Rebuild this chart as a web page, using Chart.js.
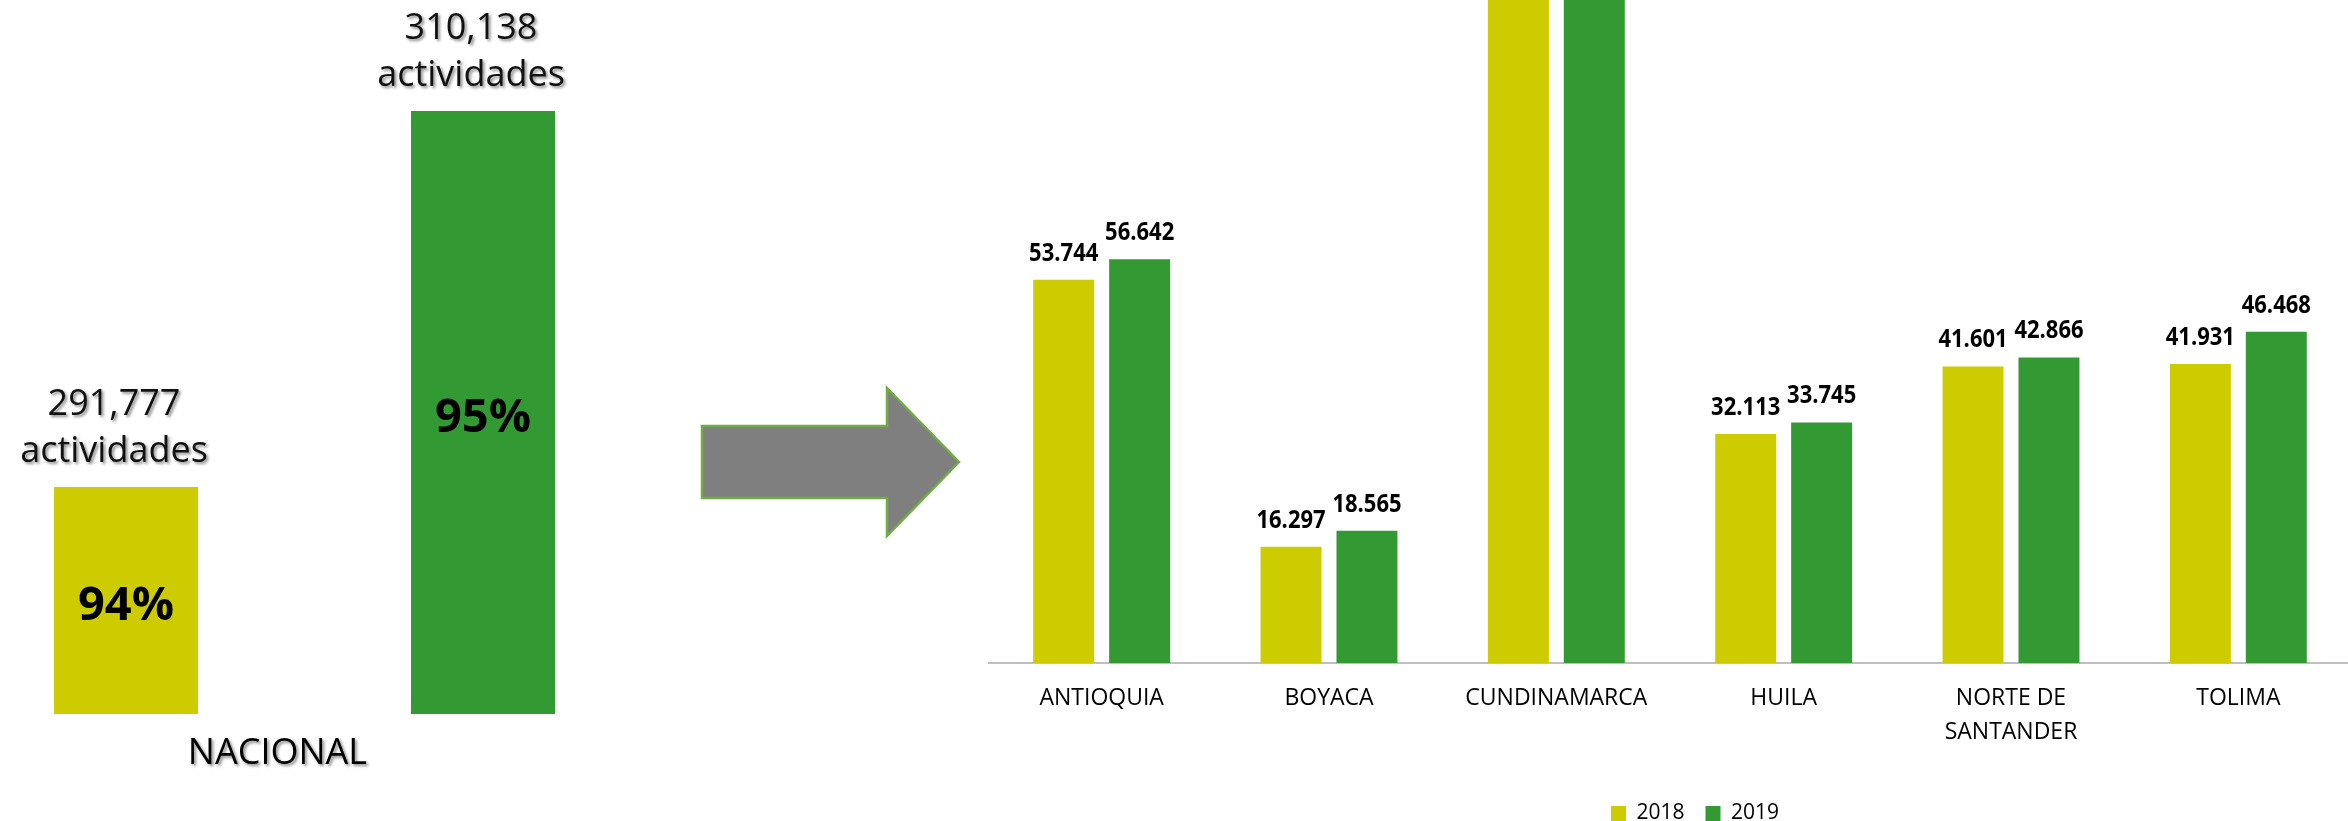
<!DOCTYPE html>
<html>
<head>
<meta charset="utf-8">
<script src="https://cdn.jsdelivr.net/npm/chart.js@4.4.1/dist/chart.umd.min.js"></script>
<style>
  body { margin: 0; width: 2348px; height: 821px; overflow: hidden; background: #fff; position: relative; }
  .box { position: absolute; }
</style>
</head>
<body>
<div class="box" style="left:0;top:0;width:609px;height:821px;"><canvas id="nacional"></canvas></div>
<svg class="box" style="left:0;top:0;" width="1000" height="821">
  <polygon points="702,426 887,426 887,388 959,462 887,536 887,498 702,498"
           fill="#7f7f7f" stroke="#70ad47" stroke-width="2.5" />
</svg>
<div class="box" style="left:988px;top:0;width:1364px;height:832px;"><canvas id="deptos"></canvas></div>

<script>
// national totals
const years = ['2018', '2019'];
const nacActividades = [291777, 310138];
const nacPct = [94, 95];
// the national panel uses a cut axis (hidden)
const nacAxisMin = 280692;
const nacAxisMax = 315559;

// departments
const depts = ['ANTIOQUIA', 'BOYACA', 'CUNDINAMARCA', 'HUILA', ['NORTE DE', 'SANTANDER'], 'TOLIMA'];
// cundinamarca is cut off in the picture: estimated as national total minus the other five
const act2018 = [53744, 16297, 106091, 32113, 41601, 41931];
const act2019 = [56642, 18565, 111852, 33745, 42866, 46468];
const deptAxisMax = 93000;

const colors = ['#cccc00', '#339933'];

function fmtComma(v) { return String(v).replace(/\B(?=(\d{3})+(?!\d))/g, ','); }
function fmtDot(v) { return String(v).replace(/\B(?=(\d{3})+(?!\d))/g, '.'); }

function shadowOn(ctx) {
  ctx.shadowColor = 'rgba(0,0,0,0.45)';
  ctx.shadowOffsetX = 2;
  ctx.shadowOffsetY = 2;
  ctx.shadowBlur = 3;
}
function shadowOff(ctx) {
  ctx.shadowColor = 'rgba(0,0,0,0)';
  ctx.shadowBlur = 0;
  ctx.shadowOffsetX = 0;
  ctx.shadowOffsetY = 0;
}

const nacLabels = {
  id: 'nacLabels',
  beforeDraw(chart) { shadowOn(chart.ctx); },
  beforeDatasetsDraw(chart) { shadowOff(chart.ctx); },
  afterDatasetsDraw(chart) {
    const ctx = chart.ctx;
    const bottom = chart.chartArea.bottom;
    ctx.save();
    ctx.textAlign = 'center';
    chart.data.datasets.forEach((ds, i) => {
      const bar = chart.getDatasetMeta(i).data[0];
      shadowOn(ctx);
      ctx.fillStyle = '#111';
      ctx.font = '36px "Open Sans"';
      ctx.textBaseline = 'alphabetic';
      ctx.fillText(fmtComma(nacActividades[i]), bar.x - 12, bar.y - 72);
      ctx.fillText('actividades', bar.x - 12, bar.y - 25);
      shadowOff(ctx);
      ctx.fillStyle = '#000';
      ctx.font = 'bold 47px "Open Sans"';
      ctx.textBaseline = 'middle';
      ctx.fillText(nacPct[i] + '%', bar.x, (bar.y + bottom) / 2 + 6);
    });
    ctx.restore();
  }
};

new Chart(document.getElementById('nacional'), {
  type: 'bar',
  data: {
    labels: ['NACIONAL'],
    datasets: years.map((y, i) => ({
      label: y,
      data: [nacActividades[i]],
      backgroundColor: colors[i]
    }))
  },
  options: {
    responsive: true,
    maintainAspectRatio: false,
    animation: false,
    categoryPercentage: 1.1724,
    barPercentage: 0.4034,
    layout: { padding: 0 },
    plugins: { legend: { display: false }, tooltip: { enabled: false } },
    scales: {
      y: { display: false, min: nacAxisMin, max: nacAxisMax },
      x: {
        grid: { display: false, drawTicks: false, tickLength: 0 },
        border: { display: false },
        ticks: {
          color: '#000',
          padding: 18.4,
          labelOffset: -27,
          font: { family: 'Open Sans', size: 36, lineHeight: 1.2 }
        },
        afterFit(scale) { scale.height = 107; }
      }
    }
  },
  plugins: [nacLabels]
});

const barLabels = {
  id: 'barLabels',
  afterLayout(chart) {
    // nudge the legend to where the original sits
    chart.legend.left += 25;
    chart.legend.right += 25;
    chart.legend.top += 2;
    chart.legend.bottom += 2;
  },
  afterDatasetsDraw(chart) {
    const ctx = chart.ctx;
    const area = chart.chartArea;
    ctx.save();
    ctx.font = 'bold 25px "Open Sans"';
    ctx.fillStyle = '#000';
    ctx.textAlign = 'center';
    ctx.textBaseline = 'alphabetic';
    chart.data.datasets.forEach((ds, i) => {
      chart.getDatasetMeta(i).data.forEach((bar, j) => {
        if (bar.y - 45 < area.top) return;
        // narrower figures, like the original labels
        ctx.save();
        ctx.translate(bar.x, bar.y - 19);
        ctx.scale(0.88, 1);
        ctx.fillText(fmtDot(ds.data[j]), 0, 0);
        ctx.restore();
      });
    });
    ctx.restore();
  }
};

new Chart(document.getElementById('deptos'), {
  type: 'bar',
  data: {
    labels: depts,
    datasets: [
      { label: years[0], data: act2018, backgroundColor: colors[0] },
      { label: years[1], data: act2019, backgroundColor: colors[1] }
    ]
  },
  options: {
    responsive: true,
    maintainAspectRatio: false,
    animation: false,
    categoryPercentage: 0.668,
    barPercentage: 0.803,
    layout: { padding: 0 },
    plugins: {
      tooltip: { enabled: false },
      legend: {
        position: 'bottom',
        labels: {
          boxWidth: 15,
          boxHeight: 15,
          padding: 21,
          color: '#000',
          font: { family: 'Open Sans', size: 21 }
        }
      }
    },
    scales: {
      y: { display: false, min: 0, max: deptAxisMax },
      x: {
        grid: { display: false, drawTicks: false, tickLength: 0 },
        border: { display: true, color: '#bfbfbf', width: 2 },
        ticks: {
          color: '#000',
          padding: 17.5,
          maxRotation: 0,
          autoSkip: false,
          font: { family: 'Open Sans', size: 23, lineHeight: 1.52 }
        },
        afterFit(scale) { scale.height = 117; }
      }
    }
  },
  plugins: [barLabels]
});
</script>
</body>
</html>
